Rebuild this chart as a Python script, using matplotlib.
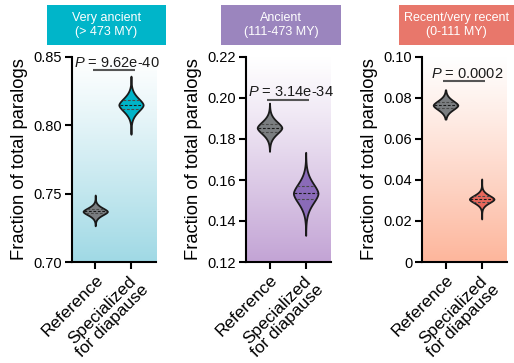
import numpy as np
import matplotlib
matplotlib.use("Agg")
import matplotlib.pyplot as plt
from matplotlib.colors import LinearSegmentedColormap
from matplotlib.patches import Rectangle

plt.rcParams['font.family'] = ['Liberation Sans', 'DejaVu Sans']
plt.rcParams['mathtext.fontset'] = 'custom'
plt.rcParams['mathtext.it'] = 'Liberation Sans:italic'
plt.rcParams['mathtext.rm'] = 'Liberation Sans'

# ---- data ----
categories = ["Reference", "Specialized\nfor diapause"]
panel_titles = ["Very ancient\n(> 473 MY)", "Ancient\n(111-473 MY)", "Recent/very recent\n(0-111 MY)"]
p_labels = ["9.62e-40", "3.14e-34", "0.0002"]

# violin summaries per panel: [reference, specialized]
medians = [[0.737, 0.815], [0.1855, 0.1535], [0.0765, 0.0307]]
q1s     = [[0.7355, 0.812], [0.1835, 0.1505], [0.0750, 0.0295]]
q3s     = [[0.7390, 0.8185], [0.1875, 0.1570], [0.0780, 0.0320]]
mins    = [[0.7265, 0.7935], [0.1740, 0.1330], [0.0697, 0.0210]]
maxs    = [[0.7490, 0.8360], [0.1975, 0.1735], [0.0840, 0.0405]]

ylims = [(0.70, 0.85), (0.12, 0.22), (0.0, 0.10)]
yticks = [[0.70, 0.75, 0.80, 0.85],
          [0.12, 0.14, 0.16, 0.18, 0.20, 0.22],
          [0.0, 0.02, 0.04, 0.06, 0.08, 0.10]]
ytick_labels = [["0.70", "0.75", "0.80", "0.85"],
                ["0.12", "0.14", "0.16", "0.18", "0.20", "0.22"],
                ["0", "0.02", "0.04", "0.06", "0.08", "0.10"]]
bar_y = [0.8405, 0.1992, 0.0883]

# ---- styles ----
ref_color = "#7b7e81"
spec_colors = ["#00b4c8", "#8a6bb8", "#e8685c"]
header_colors = ["#00b5c9", "#9b85be", "#e8776b"]
bg_colors = ["#a0d9e5", "#c3a4d5", "#fdb69c"]

W, H = 514, 363
fig = plt.figure(figsize=(W / 100, H / 100), dpi=100)

ax_px = [(72, 156), (246, 331), (422, 507)]
top_px, bot_px = 57, 262
hdr_px = [(47, 166), (221, 341), (399, 520)]
hdr_top, hdr_bot = 5, 45

def profile(med, q1, q3, lo, hi, n=200):
    sd = (q3 - q1) / 1.349
    y = np.linspace(lo, hi, n)
    v = np.exp(-0.5 * np.abs((y - med) / sd) ** 1.7)
    return y, v

for i in range(3):
    x0, x1 = ax_px[i]
    ax = fig.add_axes([x0 / W, 1 - bot_px / H, (x1 - x0) / W, (bot_px - top_px) / H])
    xlim = (-0.65, 1.7)

    # gradient background (white at top -> colour at bottom)
    cmap = LinearSegmentedColormap.from_list("g", ["white", bg_colors[i]])
    grad = np.linspace(1, 0, 256).reshape(-1, 1) ** 1.1
    ax.imshow(grad, extent=[xlim[0], xlim[1], ylims[i][0], ylims[i][1]],
              aspect='auto', cmap=cmap, vmin=0, vmax=1, zorder=0, origin='lower')
    ax.set_xlim(*xlim)
    ax.set_ylim(*ylims[i])

    vpstats = []
    for j in range(2):
        y, v = profile(medians[i][j], q1s[i][j], q3s[i][j], mins[i][j], maxs[i][j])
        vpstats.append(dict(coords=y, vals=v, mean=medians[i][j], median=medians[i][j],
                            min=mins[i][j], max=maxs[i][j], quantiles=[]))
    parts = ax.violin(vpstats, positions=[0, 1], widths=0.68,
                      showmeans=False, showextrema=False, showmedians=False)
    for j, body in enumerate(parts['bodies']):
        body.set_facecolor(ref_color if j == 0 else spec_colors[i])
        body.set_edgecolor("#1a1a1a")
        body.set_linewidth(1.3)
        body.set_alpha(1)
        body.set_zorder(3)
        y, v = profile(medians[i][j], q1s[i][j], q3s[i][j], mins[i][j], maxs[i][j])
        for val, col in [(q1s[i][j], "#4a4a4a"), (medians[i][j], "#1a1a1a"), (q3s[i][j], "#4a4a4a")]:
            hw = np.interp(val, y, v) * 0.34 * 0.92
            ax.plot([j - hw, j + hw], [val, val], ls=(0, (2.5, 1.5)), lw=0.8,
                    color=col, zorder=4)

    # significance bar + text
    ax.plot([-0.06, 1.1], [bar_y[i], bar_y[i]], color="#555555", lw=1.5, zorder=5,
            solid_capstyle='butt')
    ax.annotate(r"$\it{P}$ = " + p_labels[i], xy=(0.52, bar_y[i]), xytext=(2, 0.3),
                textcoords='offset points', ha='center', va='bottom',
                fontsize=10.5, color="#1a1a1a", zorder=6, annotation_clip=False)

    ax.set_yticks(yticks[i])
    ax.set_yticklabels(ytick_labels[i], fontsize=10.5)
    ax.set_xticks([0, 1])
    ax.set_xticklabels(categories, fontsize=12.4, rotation=45, ha='right',
                       va='top', rotation_mode='anchor', multialignment='center',
                       linespacing=0.95)
    ax.set_ylabel("Fraction of total paralogs", fontsize=13.2, labelpad=4)
    for s in ["top", "right"]:
        ax.spines[s].set_visible(False)
    for s in ["left", "bottom"]:
        ax.spines[s].set_linewidth(1.5)
        ax.spines[s].set_zorder(7)
    ax.tick_params(axis='both', direction='out', length=5, width=1.5, pad=2)

    # header box
    hx0, hx1 = hdr_px[i]
    fig.patches.append(Rectangle((hx0 / W, 1 - hdr_bot / H), (hx1 - hx0) / W,
                                 (hdr_bot - hdr_top) / H, transform=fig.transFigure,
                                 facecolor=header_colors[i], edgecolor='none'))
    fig.text(((hx0 + min(hx1, W)) / 2) / W if i < 2 else 456.5 / W,
             1 - ((hdr_top + hdr_bot) / 2) / H, panel_titles[i],
             ha='center', va='center', color='white', fontsize=9, linespacing=1.15)

fig.savefig("out.png", dpi=100)
